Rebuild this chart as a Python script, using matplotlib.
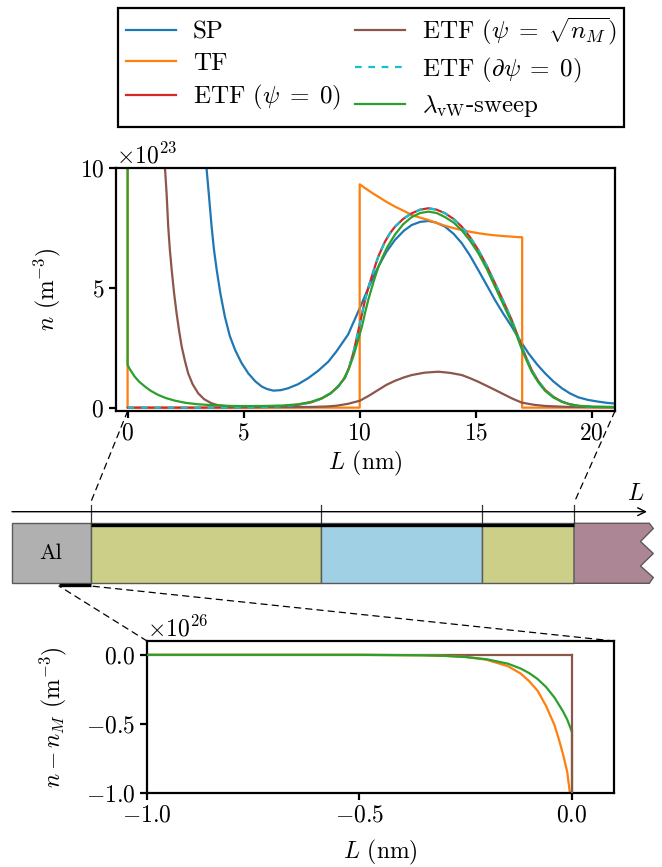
import numpy as np
import matplotlib
matplotlib.use("Agg")
import matplotlib.pyplot as plt
from matplotlib.patches import Rectangle, Polygon, ConnectionPatch

# ---------------- data (top: n in units of 1e23 m^-3, L in nm) ----------------
TOP_UNIT = 1e23
BOT_UNIT = 1e26

L_sp = [3.10, 3.25, 3.40, 3.50, 3.62, 3.72, 3.84, 4.00, 4.19, 4.40, 4.63, 4.90,
        5.20, 5.50, 5.78, 6.00, 6.28, 6.60, 6.92, 7.35, 7.78, 8.20, 8.65, 9.00,
        9.50, 10.00, 10.40, 10.80, 11.15, 11.52, 11.90, 12.24, 12.60, 12.96,
        13.30, 13.68, 14.05, 14.40, 14.75, 15.11, 15.47, 15.83, 16.20, 16.55,
        16.90, 17.27, 17.63, 17.99, 18.35, 18.71, 19.05, 19.42, 19.85, 20.28,
        20.65, 21.00]
n_sp = [16.0, 12.6, 10.0, 8.9, 7.55, 6.6, 5.74, 4.75, 3.80, 3.00, 2.41, 1.88,
        1.43, 1.10, 0.88, 0.78, 0.71, 0.73, 0.81, 0.98, 1.23, 1.53, 1.92, 2.35,
        3.05, 4.15, 5.05, 5.88, 6.50, 7.00, 7.38, 7.62, 7.75, 7.79,
        7.72, 7.55, 7.25, 6.86, 6.35, 5.74, 5.12, 4.49, 3.90, 3.38,
        2.82, 2.27, 1.82, 1.43, 1.09, 0.81, 0.60, 0.43, 0.32, 0.25,
        0.20, 0.17]

L_tf = [0.0, 0.0, 10.0, 10.0, 10.2, 10.4, 10.6, 10.8, 11.15, 11.52, 11.90, 12.24,
        12.60, 12.96, 13.30, 13.68, 14.05, 14.40, 14.75, 15.11, 15.47, 15.83,
        16.20, 16.50, 16.75, 17.0, 17.0, 21.0]
n_tf = [30.0, 0.0, 0.0, 9.32, 9.18, 9.05, 8.92, 8.80, 8.59, 8.39, 8.21, 8.04,
        7.93, 7.83, 7.71, 7.59, 7.49, 7.41, 7.34, 7.28, 7.23, 7.19,
        7.16, 7.14, 7.12, 7.11, 0.0, 0.0]

L_etf0 = [0.0, 3.0, 5.0, 6.0, 6.7, 7.35, 7.9, 8.36, 8.75, 9.08, 9.37, 9.55, 9.73,
          9.87, 10.01, 10.12, 10.23, 10.37, 10.52, 10.66, 10.80, 10.95, 11.09,
          11.30, 11.52, 11.88, 12.24, 12.60, 12.96, 13.32, 13.68, 14.05, 14.40,
          14.75, 15.11, 15.47, 15.83, 16.20, 16.55, 16.77, 16.98, 17.20, 17.41,
          17.70, 17.99, 18.35, 18.71, 19.05, 19.42, 20.0, 21.0]
n_etf0 = [0.0, 0.0, 0.01, 0.03, 0.06, 0.12, 0.22, 0.38, 0.60, 0.90, 1.25, 1.70, 2.30,
          2.90, 3.52, 4.00, 4.49, 5.00, 5.47, 5.90, 6.30, 6.63, 6.93,
          7.27, 7.55, 7.88, 8.11, 8.26, 8.32, 8.26, 8.11, 7.87, 7.55,
          7.12, 6.58, 5.93, 5.19, 4.42, 3.66, 3.10, 2.55, 2.03, 1.57,
          1.10, 0.74, 0.45, 0.25, 0.14, 0.07, 0.03, 0.02]

L_etfs = [1.40, 1.48, 1.55, 1.61, 1.68, 1.75, 1.82, 1.90, 2.00, 2.11, 2.22, 2.33,
          2.47, 2.61, 2.80, 3.04, 3.30, 3.62, 3.90, 4.48, 5.5, 7.0, 8.0, 8.6,
          9.0, 9.5, 10.01, 10.4, 10.80, 11.15, 11.52, 11.90, 12.24, 12.80, 13.39,
          13.90, 14.40, 14.75, 15.11, 15.47, 15.83, 16.20, 16.55, 16.98, 17.5,
          17.99, 19.0, 21.0]
n_etfs = [15.0, 13.0, 11.3, 10.0, 8.94, 7.55, 6.60, 5.74, 4.80, 3.94, 3.20, 2.55,
          1.95, 1.43, 0.98, 0.60, 0.35, 0.18, 0.10, 0.04, 0.02, 0.02, 0.03, 0.05,
          0.08, 0.16, 0.29, 0.50, 0.74, 0.95, 1.12, 1.26, 1.36, 1.46, 1.50,
          1.45, 1.36, 1.23, 1.08, 0.91, 0.74, 0.56, 0.39, 0.21, 0.12,
          0.07, 0.03, 0.02]

L_etfd = list(L_etf0)
n_etfd = list(n_etf0)

L_vw = [0.0, 0.0, 0.10, 0.20, 0.31, 0.50, 0.75, 1.00, 1.32, 1.65, 2.04, 2.50,
        3.04, 3.70, 4.48, 5.20, 5.92, 6.70, 7.35, 7.90, 8.36, 8.75, 9.08, 9.30,
        9.51, 9.73, 9.94, 10.10, 10.23, 10.37, 10.52, 10.66, 10.80, 11.00,
        11.20, 11.52, 11.88, 12.24, 12.60, 12.96, 13.32, 13.68, 14.05, 14.40,
        14.75, 15.11, 15.47, 15.83, 16.20, 16.55, 16.77, 16.98, 17.20, 17.41,
        17.70, 17.99, 18.35, 18.71, 19.05, 19.42, 20.0, 21.0]
n_vw = [30.0, 1.78, 1.60, 1.45, 1.29, 1.08, 0.88, 0.70, 0.53, 0.40, 0.29, 0.20,
        0.14, 0.10, 0.07, 0.065, 0.07, 0.09, 0.14, 0.24, 0.39, 0.60, 0.88, 1.18,
        1.57, 2.15, 2.85, 3.40, 3.95, 4.50, 5.00, 5.45, 5.85, 6.32,
        6.72, 7.22, 7.66, 7.95, 8.12, 8.18, 8.12, 7.95, 7.72, 7.40,
        6.97, 6.45, 5.80, 5.05, 4.28, 3.55, 3.00, 2.45, 1.95, 1.50,
        1.05, 0.70, 0.42, 0.25, 0.14, 0.08, 0.04, 0.03]

# bottom: n - n_M in units of 1e26 m^-3
L_b = [-1.0, -0.5, -0.35, -0.30, -0.25, -0.20, -0.15, -0.12, -0.10, -0.08,
       -0.06, -0.04, -0.03, -0.02, -0.01, 0.0]
d_tf = [0.0, 0.0, -0.003, -0.007, -0.015, -0.036, -0.082, -0.135, -0.19, -0.26,
        -0.37, -0.51, -0.61, -0.72, -0.85, -1.1]
d_vw = [0.0, 0.0, -0.0037, -0.0076, -0.016, -0.032, -0.064, -0.099, -0.132, -0.175,
        -0.233, -0.31, -0.36, -0.41, -0.47, -0.55]
L_b_vw_tail = [0.0, 0.0]
d_vw_tail = [-0.55, -20.0]
L_b_etfs = [-1.0, 0.0, 0.0]
d_etfs = [0.0, 0.0, -20.0]

layer_edges = [0.0, 10.0, 17.0, 21.0]   # nm

labels = ["SP", "TF", r"ETF ($\psi\;=\;0$)", r"ETF ($\psi\;=\;\sqrt{n_M}$)",
          r"ETF ($\partial\psi\;=\;0$)", r"$\lambda_{\mathrm{vW}}$-sweep"]

# ---------------- style ----------------
plt.rcParams.update({
    "font.family": "serif",
    "font.serif": ["cmr10"],
    "mathtext.fontset": "cm",
    "axes.formatter.use_mathtext": True,
    "font.size": 17,
    "axes.linewidth": 1.6,
    "xtick.major.width": 1.6,
    "ytick.major.width": 1.6,
    "xtick.major.size": 5,
    "ytick.major.size": 5,
})

W, H = 662, 867
fig = plt.figure(figsize=(W / 100, H / 100), dpi=100)

def frac(l, r, t, b):
    return [l / W, (H - b) / H, (r - l) / W, (b - t) / H]

C_SP, C_TF, C_RED, C_BR, C_CY, C_GR = ("#1f77b4", "#ff7f0e", "#d62728",
                                        "#8c564b", "#17becf", "#2ca02c")
lw = 1.6

# overlay for schematic
ov = fig.add_axes([0, 0, 1, 1], zorder=-5)
ov.set_xlim(0, W)
ov.set_ylim(H, 0)
ov.axis("off")

# ---------------- top axes ----------------
ax = fig.add_axes(frac(116, 615, 168, 411))
T = lambda a: np.asarray(a) * TOP_UNIT
ax.plot(L_sp, T(n_sp), color=C_SP, lw=lw, label=labels[0])
ax.plot(L_tf, T(n_tf), color=C_TF, lw=lw, label=labels[1])
ax.plot(L_etf0, T(n_etf0), color=C_RED, lw=lw, label=labels[2])
ax.plot(L_etfs, T(n_etfs), color=C_BR, lw=lw, label=labels[3])
ax.plot(L_etfd, T(n_etfd), color=C_CY, lw=lw, ls=(0, (3, 3)), label=labels[4])
ax.plot(L_vw, T(n_vw), color=C_GR, lw=lw, label=labels[5])
ax.set_xlim(-0.5, 21.0)
ax.set_ylim(-0.14e23, 1e24)
ax.set_xticks([0, 5, 10, 15, 20])
ax.set_yticks([0, 5e23, 1e24])
ax.ticklabel_format(axis="y", style="sci", scilimits=(23, 23), useMathText=True)
ax.set_xlabel(r"$L$ (nm)", labelpad=3)
ax.set_ylabel(r"$n$ (m$^{-3}$)", labelpad=12)

leg = ax.legend(ncol=2, loc="upper center", bbox_to_anchor=(371 / W, 1 - 8 / H),
                bbox_transform=fig.transFigure, fontsize=18,
                fancybox=False, framealpha=1, edgecolor="black",
                handlelength=2.0, handletextpad=0.7, columnspacing=0.55,
                labelspacing=0.35, borderpad=0.3, borderaxespad=0.0)
leg.get_frame().set_linewidth(1.6)

# ---------------- bottom axes ----------------
bx = fig.add_axes(frac(147, 614, 641, 793))
B = lambda a: np.asarray(a) * BOT_UNIT
bx.plot(L_b_etfs[:2], B(d_etfs[:2]), color=C_BR, lw=lw, zorder=1)
bx.plot(L_b, B(d_tf), color=C_TF, lw=lw, zorder=2)
bx.plot(L_b_vw_tail, B(d_vw_tail), color=C_GR, lw=lw, zorder=2)
bx.plot(L_b, B(d_vw), color=C_GR, lw=lw, zorder=3)
bx.plot(L_b_etfs[1:], B(d_etfs[1:]), color=C_BR, lw=lw, zorder=4)
bx.set_xlim(-1.0, 0.1)
bx.set_ylim(-1.0e26, 0.1e26)
bx.set_xticks([-1.0, -0.5, 0.0])
bx.set_yticks([-1.0e26, -0.5e26, 0.0])
bx.ticklabel_format(axis="y", style="sci", scilimits=(26, 26), useMathText=True)
bx.set_xlabel(r"$L$ (nm)", labelpad=8)
bx.set_ylabel(r"$n - n_M$ (m$^{-3}$)", labelpad=12)

# ---------------- schematic ----------------
X0, X21 = 90.5, 574.0
px = lambda L: X0 + (L - layer_edges[0]) * (X21 - X0) / (layer_edges[-1] - layer_edges[0])
ytop, ybot = 523.3, 583.3
ec = "#5a5a5a"
ov.add_patch(Rectangle((12, ytop), X0 - 12, ybot - ytop, fc="#b0b0b0", ec=ec, lw=1.0))
fills = ["#cbcf88", "#a0d0e4", "#cbcf88"]
for i in range(3):
    a, b = px(layer_edges[i]), px(layer_edges[i + 1])
    ov.add_patch(Rectangle((a, ytop), b - a, ybot - ytop, fc=fills[i], ec=ec, lw=1.0))
ov.add_patch(Polygon([(X21, ytop), (649.3, ytop), (653.3, 528.5), (640.5, 541.5),
                      (653.3, 553.5), (640.5, 566), (653.3, 577.5), (649.3, ybot),
                      (X21, ybot)], closed=True, fc="#ad8696", ec=ec, lw=1.0))
ov.text(51, 553.5, "Al", ha="center", va="center", fontsize=16)
ov.plot([px(layer_edges[0]), px(layer_edges[-1])], [525, 525], color="black",
        lw=2.4, solid_capstyle="butt")
ov.plot([59, X0], [585, 585], color="black", lw=2.4, solid_capstyle="butt")
for e in layer_edges:
    ov.plot([px(e), px(e)], [505, ytop], color="#333333", lw=0.9)
ov.annotate("", xy=(647, 511.7), xytext=(12, 511.7),
            arrowprops=dict(arrowstyle="->", lw=1.0, color="black",
                            shrinkA=0, shrinkB=0, mutation_scale=14))
ov.text(636, 494, r"$L$", ha="center", va="center", fontsize=17)

dash = (0, (5, 4))
for (xa, ya), (xb, yb), axx in [((0.0, -0.14e23), (X0, 503), ax),
                                 ((21.0, -0.14e23), (X21, 503), ax),
                                 ((-1.0, 0.1e26), (59, 586), bx),
                                 ((0.1, 0.1e26), (X0, 586), bx)]:
    con = ConnectionPatch(xyA=(xa, ya), coordsA=axx.transData,
                          xyB=(xb, yb), coordsB=ov.transData,
                          color="black", lw=0.9, ls=dash, zorder=-4)
    fig.add_artist(con)

fig.savefig("out.png", dpi=100)
